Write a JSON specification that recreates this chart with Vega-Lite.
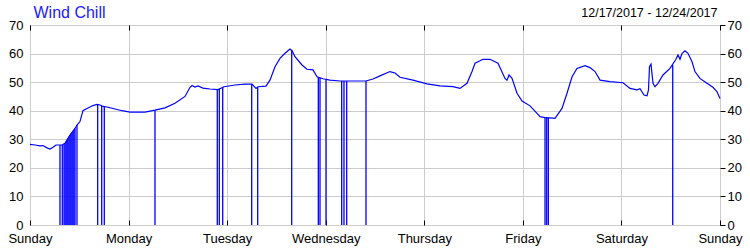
{
  "$schema": "https://vega.github.io/schema/vega-lite/v6.json",
  "width": 690,
  "height": 200,
  "autosize": "none",
  "padding": {"left": 30, "top": 25, "right": 30, "bottom": 25},
  "background": "white",
  "config": {
    "view": {"stroke": "black", "strokeWidth": 1},
    "axis": {"labelFont": "Liberation Sans", "labelFontSize": 13, "labelColor": "black", "gridColor": "#cccccc", "gridOpacity": 1, "domainColor": "black", "tickColor": "black", "titleFont": "Liberation Sans"}
  },
  "datasets": {
    "line": [
      {"hour": 0, "value": 28.2}, {"hour": 1.22, "value": 28.0}, {"hour": 2.43, "value": 27.7}, {"hour": 3.17, "value": 27.8},
      {"hour": 4.14, "value": 27.0}, {"hour": 4.87, "value": 26.6}, {"hour": 5.6, "value": 27.2}, {"hour": 6.33, "value": 28.0},
      {"hour": 7.79, "value": 28.0}, {"hour": 8.52, "value": 28.6}, {"hour": 9.74, "value": 31.5}, {"hour": 10.96, "value": 33.8},
      {"hour": 11.44, "value": 35.0}, {"hour": 12.17, "value": 36.2}, {"hour": 12.9, "value": 40.0}, {"hour": 13.88, "value": 40.8},
      {"hour": 15.34, "value": 41.8}, {"hour": 16.31, "value": 42.2}, {"hour": 17.04, "value": 42.0}, {"hour": 17.77, "value": 41.5},
      {"hour": 18.75, "value": 41.3}, {"hour": 20.7, "value": 40.6}, {"hour": 22.4, "value": 40.0}, {"hour": 24.35, "value": 39.5},
      {"hour": 28.0, "value": 39.5}, {"hour": 30.43, "value": 40.2}, {"hour": 32.87, "value": 41.0}, {"hour": 35.3, "value": 42.6},
      {"hour": 37.74, "value": 45.0}, {"hour": 38.96, "value": 48.2}, {"hour": 39.44, "value": 48.8}, {"hour": 40.17, "value": 48.3},
      {"hour": 40.9, "value": 48.7}, {"hour": 42.12, "value": 47.9}, {"hour": 43.83, "value": 47.6}, {"hour": 45.78, "value": 47.4},
      {"hour": 47.24, "value": 48.4}, {"hour": 49.92, "value": 49.0}, {"hour": 52.35, "value": 49.3}, {"hour": 54.05, "value": 49.3},
      {"hour": 55.03, "value": 47.8}, {"hour": 55.51, "value": 48.4}, {"hour": 57.46, "value": 48.6}, {"hour": 58.43, "value": 50.7},
      {"hour": 59.65, "value": 55.4}, {"hour": 60.87, "value": 58.3}, {"hour": 62.09, "value": 60.1}, {"hour": 63.3, "value": 61.6},
      {"hour": 63.79, "value": 61.0}, {"hour": 64.52, "value": 58.9}, {"hour": 66.23, "value": 56.0}, {"hour": 67.44, "value": 54.5},
      {"hour": 68.9, "value": 54.3}, {"hour": 69.88, "value": 51.9}, {"hour": 71.34, "value": 51.2}, {"hour": 73.04, "value": 50.7},
      {"hour": 75.47, "value": 50.4}, {"hour": 81.8, "value": 50.4}, {"hour": 83.51, "value": 51.1}, {"hour": 85.21, "value": 52.2},
      {"hour": 87.65, "value": 53.7}, {"hour": 88.87, "value": 53.2}, {"hour": 90.09, "value": 51.7}, {"hour": 93.25, "value": 50.7},
      {"hour": 96.66, "value": 49.4}, {"hour": 99.82, "value": 48.7}, {"hour": 102.99, "value": 48.4}, {"hour": 104.7, "value": 47.8},
      {"hour": 106.4, "value": 49.6}, {"hour": 107.62, "value": 53.7}, {"hour": 108.35, "value": 56.6}, {"hour": 110.3, "value": 58.0},
      {"hour": 112.0, "value": 58.0}, {"hour": 113.95, "value": 56.6}, {"hour": 115.65, "value": 51.3}, {"hour": 116.14, "value": 50.7},
      {"hour": 116.63, "value": 52.5}, {"hour": 117.36, "value": 51.3}, {"hour": 118.58, "value": 46.1}, {"hour": 119.8, "value": 43.4},
      {"hour": 121.75, "value": 41.7}, {"hour": 123.45, "value": 39.1}, {"hour": 124.18, "value": 37.9}, {"hour": 125.4, "value": 37.6},
      {"hour": 126.61, "value": 37.5}, {"hour": 127.83, "value": 37.3}, {"hour": 129.53, "value": 40.8}, {"hour": 130.75, "value": 46.1},
      {"hour": 131.97, "value": 51.9}, {"hour": 133.18, "value": 54.8}, {"hour": 135.13, "value": 55.8}, {"hour": 136.35, "value": 55.1},
      {"hour": 137.57, "value": 53.7}, {"hour": 138.79, "value": 50.7}, {"hour": 141.22, "value": 50.2}, {"hour": 144.39, "value": 49.8},
      {"hour": 146.09, "value": 47.8}, {"hour": 147.8, "value": 47.3}, {"hour": 148.52, "value": 47.7}, {"hour": 149.5, "value": 45.5},
      {"hour": 150.23, "value": 45.2}, {"hour": 150.59, "value": 47.3}, {"hour": 150.83, "value": 55.4}, {"hour": 151.2, "value": 56.3},
      {"hour": 151.69, "value": 49.6}, {"hour": 152.17, "value": 48.4}, {"hour": 152.9, "value": 49.6}, {"hour": 154.12, "value": 52.5},
      {"hour": 155.82, "value": 54.8}, {"hour": 157.28, "value": 58.0}, {"hour": 157.77, "value": 59.5}, {"hour": 158.26, "value": 58.0},
      {"hour": 158.74, "value": 60.0}, {"hour": 159.47, "value": 61.0}, {"hour": 160.2, "value": 60.1}, {"hour": 161.17, "value": 57.2},
      {"hour": 161.9, "value": 53.7}, {"hour": 163.12, "value": 51.3}, {"hour": 164.82, "value": 49.6}, {"hour": 166.28, "value": 48.2},
      {"hour": 167.25, "value": 46.7}, {"hour": 168.0, "value": 44.3}
    ],
    "drops": [
      {"hour": 7.3, "value": 28.0}, {"hour": 7.86, "value": 28.0}, {"hour": 8.28, "value": 28.3}, {"hour": 8.52, "value": 28.6},
      {"hour": 8.77, "value": 29.2}, {"hour": 9.01, "value": 29.8}, {"hour": 9.25, "value": 30.4}, {"hour": 9.5, "value": 31.0},
      {"hour": 9.74, "value": 31.5}, {"hour": 9.98, "value": 32.0}, {"hour": 10.23, "value": 32.4}, {"hour": 10.47, "value": 32.9},
      {"hour": 10.71, "value": 33.3}, {"hour": 10.96, "value": 33.8}, {"hour": 11.44, "value": 35.0}, {"hour": 16.48, "value": 42.2},
      {"hour": 17.46, "value": 41.7}, {"hour": 18.09, "value": 41.3}, {"hour": 30.43, "value": 40.2}, {"hour": 45.6, "value": 47.4},
      {"hour": 46.09, "value": 47.6}, {"hour": 46.92, "value": 48.2}, {"hour": 53.98, "value": 49.3}, {"hour": 55.44, "value": 48.2},
      {"hour": 63.72, "value": 61.2}, {"hour": 70.2, "value": 51.8}, {"hour": 70.61, "value": 51.6}, {"hour": 72.07, "value": 51.0},
      {"hour": 75.89, "value": 50.4}, {"hour": 76.45, "value": 50.4}, {"hour": 77.11, "value": 50.4}, {"hour": 81.81, "value": 50.4},
      {"hour": 125.4, "value": 37.6}, {"hour": 125.81, "value": 37.8}, {"hour": 126.2, "value": 37.6}, {"hour": 156.49, "value": 56.0}
    ]
  },
  "layer": [
    {
      "data": {"name": "line"},
      "mark": {"type": "line", "color": "#0000ff", "strokeWidth": 1.2, "interpolate": "linear"},
      "encoding": {
        "x": {"field": "hour", "type": "quantitative", "scale": {"domain": [0, 168], "nice": false, "zero": false},
              "axis": {"orient": "bottom", "title": null, "values": [0, 24, 48, 72, 96, 120, 144, 168], "grid": true, "domain": false, "ticks": true, "tickSize": -5, "labelPadding": 12,
                       "labelExpr": "['Sunday','Monday','Tuesday','Wednesday','Thursday','Friday','Saturday','Sunday'][round(datum.value/24)]", "labelFlush": false, "labelOverlap": false}},
        "y": {"field": "value", "type": "quantitative", "scale": {"domain": [0, 70], "nice": false},
              "axis": {"orient": "left", "title": null, "values": [0, 10, 20, 30, 40, 50, 60, 70], "grid": true, "domain": false, "ticks": false, "labelPadding": 7}}
      }
    },
    {
      "data": {"name": "drops"},
      "mark": {"type": "rule", "color": "#0000ff", "strokeWidth": 1.3},
      "encoding": {
        "x": {"field": "hour", "type": "quantitative",
              "axis": {"orient": "top", "title": "Wind Chill", "titleAnchor": "start", "titleAlign": "left", "titleBaseline": "alphabetic", "titleX": 3, "titleY": -8, "titleFontSize": 16, "titleFontWeight": "normal", "titleColor": "#2020ff", "labels": false, "values": [0, 24, 48, 72, 96, 120, 144, 168], "grid": false, "domain": false, "ticks": true, "tickSize": -5}},
        "y": {"field": "value", "type": "quantitative",
              "axis": {"orient": "right", "title": "12/17/2017 - 12/24/2017", "titleAngle": 0, "titleAlign": "right", "titleBaseline": "alphabetic", "titleX": -3, "titleY": -8.3, "titleFontSize": 12.5, "titleFontWeight": "normal", "titleColor": "black", "values": [0, 10, 20, 30, 40, 50, 60, 70], "grid": false, "domain": false, "ticks": true, "tickSize": 5, "labelPadding": 2}},
        "y2": {"datum": 0}
      }
    }
  ],
  "resolve": {"axis": {"x": "independent", "y": "independent"}}
}
